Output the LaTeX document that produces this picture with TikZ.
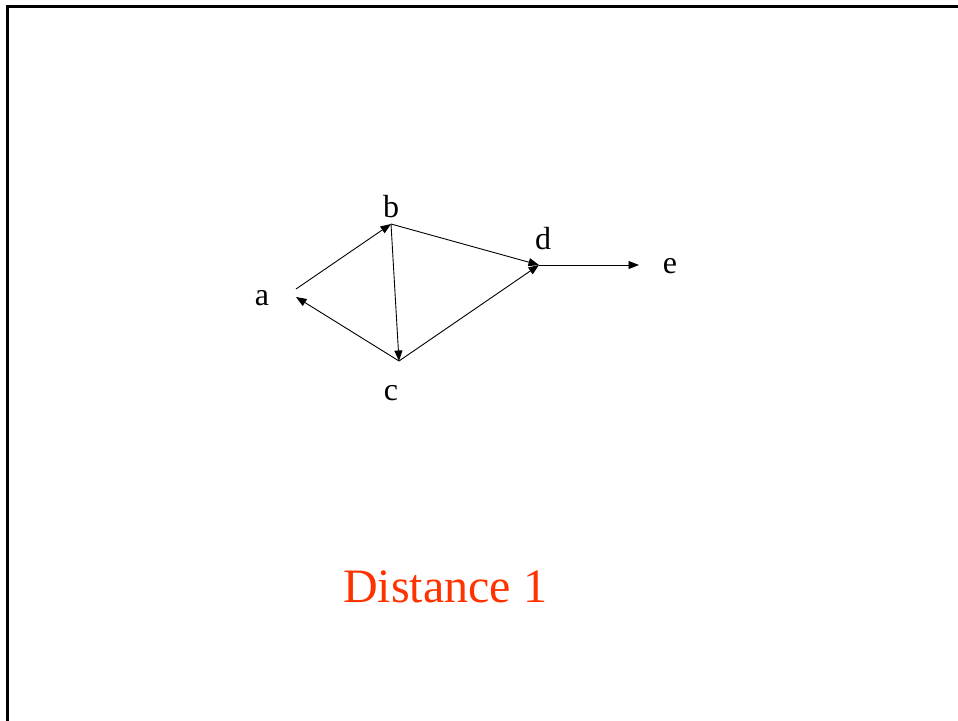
\documentclass[tikz,border=0pt]{standalone}
\usepackage{fontspec}
\setmainfont{Liberation Serif}
\usetikzlibrary{arrows.meta}
\definecolor{titlered}{RGB}{255,51,0}
\tikzset{
  edge/.style={line width=0.9pt,-{Triangle[length=10.5pt,width=8pt]}},
  lbl/.style={inner sep=0pt,anchor=base,font=\fontsize{32}{36}\selectfont},
  frame/.style={line width=3pt,black}
}
\begin{document}
\begin{tikzpicture}[x=1pt,y=-1pt]
\useasboundingbox (0,0) rectangle (958,720);
\draw[frame] (7,722) -- (7,6) -- (960,6);
% points
\coordinate (a1) at (296,289);
\coordinate (a2) at (296,297);
\coordinate (b) at (391,224);
\coordinate (c) at (399,361);
\coordinate (d) at (539,265);
\coordinate (e) at (639,265);
% labels
\node[lbl] (la) at (262,305) {a};
\node[lbl] (lb) at (391,217) {b};
\node[lbl] (lc) at (391,400) {c};
\node[lbl] (ld) at (543,249) {d};
\node[lbl] (le) at (670,273) {e};
% edges
\draw[edge] (a1) -- (b);
\draw[edge] (b) -- (c);
\draw[edge] (c) -- (a2);
\draw[edge] (b) -- (d);
\draw[edge] (c) -- (d);
\draw[edge] (d) -- (e);
% title
\node[inner sep=0pt,anchor=base west,text=titlered,font=\fontsize{48}{54}\selectfont] (title) at (343,602) {Distance 1};
\end{tikzpicture}
\end{document}
